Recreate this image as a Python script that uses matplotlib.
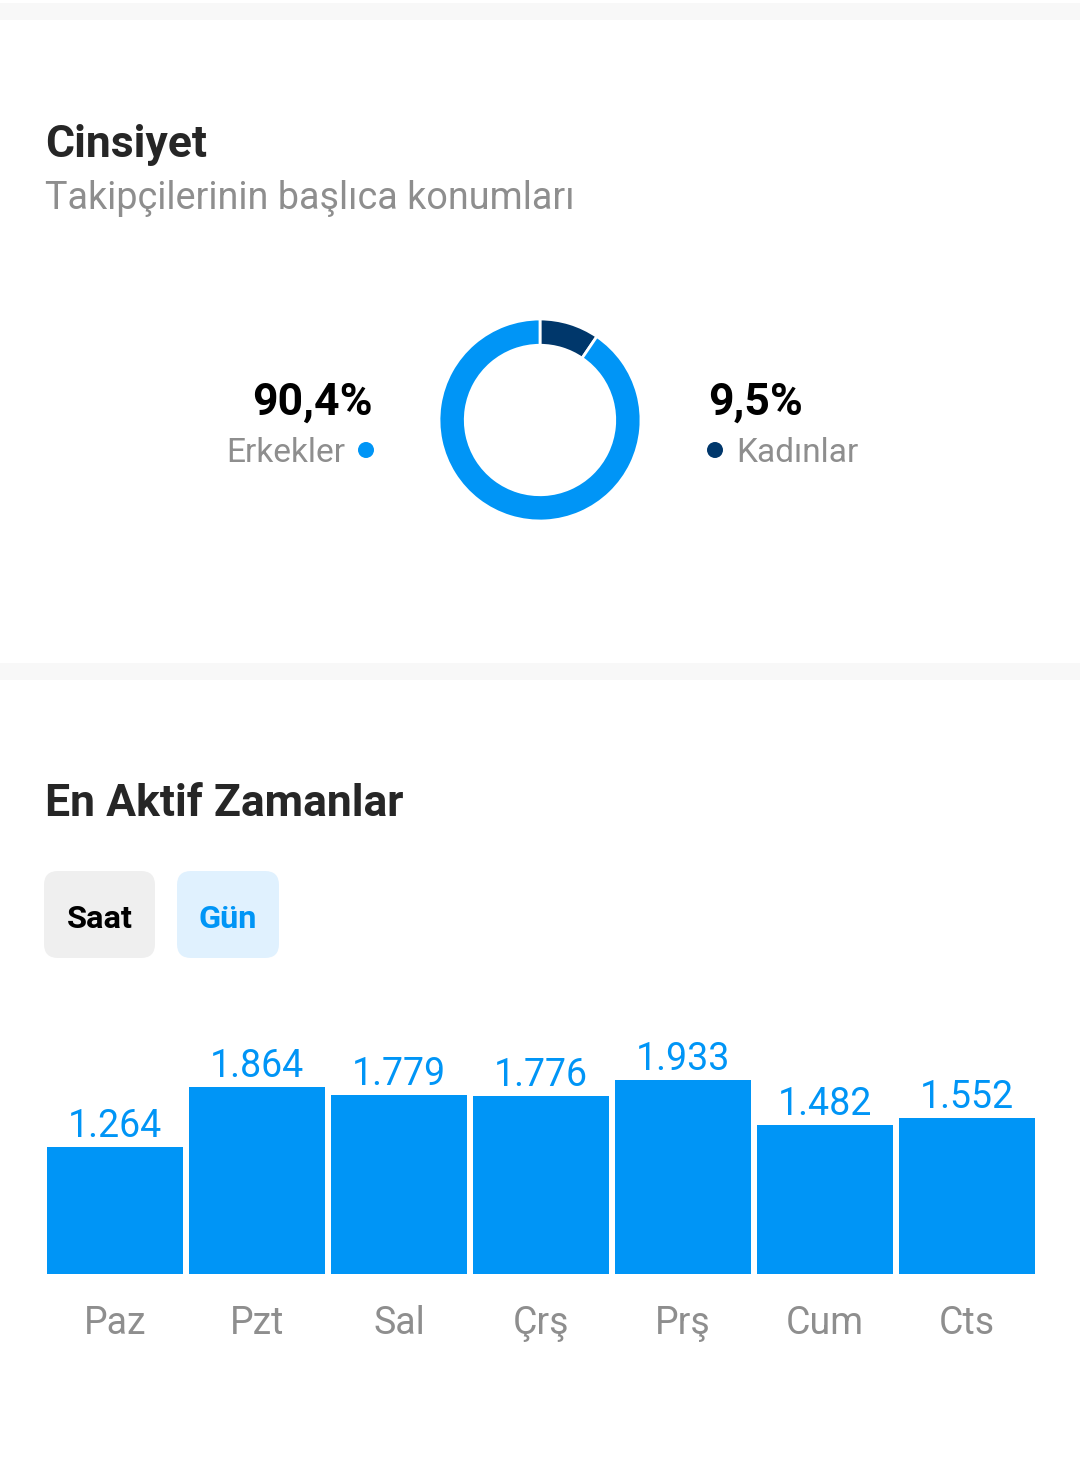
import matplotlib
matplotlib.use("Agg")
import matplotlib.pyplot as plt
from matplotlib.patches import Rectangle, FancyBboxPatch, Circle

plt.rcParams["font.family"] = ["Roboto", "DejaVu Sans"]

# data
gender_labels = ["Kadınlar", "Erkekler"]
gender_share = [9.5, 90.4]
days = ["Paz", "Pzt", "Sal", "Çrş", "Prş", "Cum", "Cts"]
activity = [1264, 1864, 1779, 1776, 1933, 1482, 1552]

blue = "#0095f6"
navy = "#00376b"
gray = "#8e8e8e"
dark = "#262626"

W, H = 1080, 1465
fig = plt.figure(figsize=(W / 100, H / 100), dpi=100)
fig.patch.set_facecolor("white")


def px(v):
    # pixels -> points
    return v * 72 / 100


# background / text layer in pixel coords
bg = fig.add_axes([0, 0, 1, 1])
bg.set_xlim(0, W)
bg.set_ylim(H, 0)
bg.axis("off")

bg.add_patch(Rectangle((0, 3), W, 17, color="#f8f8f8", lw=0))
bg.add_patch(Rectangle((0, 663), W, 17, color="#f8f8f8", lw=0))

bg.text(45, 157, "Cinsiyet", fontsize=px(44.5), fontweight="bold", color=dark, va="baseline")
bg.text(45, 209, "Takipçilerinin başlıca konumları", fontsize=px(37.7), color=gray, va="baseline")

# gender labels
bg.text(373, 415, f"{gender_share[1]:.1f}%".replace(".", ","), fontsize=px(44.5),
        fontweight="bold", color="black", ha="right", va="baseline")
bg.text(345, 462, gender_labels[1], fontsize=px(33.5), color=gray, ha="right", va="baseline")
bg.add_patch(Circle((366, 450), 8, color=blue, lw=0))

bg.text(708, 415, f"{gender_share[0]:.1f}%".replace(".", ","), fontsize=px(44.5),
        fontweight="bold", color="black", ha="left", va="baseline")
bg.text(736, 462, gender_labels[0], fontsize=px(33.5), color=gray, ha="left", va="baseline")
bg.add_patch(Circle((715, 450), 8, color=navy, lw=0))

bg.text(45, 816, "En Aktif Zamanlar", fontsize=px(44.5), fontweight="bold", color=dark, va="baseline")

# toggle buttons
bg.add_patch(FancyBboxPatch((44, 871), 111, 87, boxstyle="round,pad=0,rounding_size=14",
                            fc="#efefef", ec="none"))
bg.add_patch(FancyBboxPatch((177, 871), 102, 87, boxstyle="round,pad=0,rounding_size=14",
                            fc="#e0f1fe", ec="none"))
bg.text(99.5, 928, "Saat", fontsize=px(32.5), fontweight="bold", color="black", ha="center", va="baseline")
bg.text(228, 928, "Gün", fontsize=px(32.5), fontweight="bold", color=blue, ha="center", va="baseline")

# donut
dax = fig.add_axes([439 / W, 1 - 521 / H, 202 / W, 202 / H])
dax.pie(gender_share, colors=[navy, blue], startangle=90, counterclock=False,
        radius=1, wedgeprops=dict(width=0.26, edgecolor="white", linewidth=2))
dax.set_xlim(-1, 1)
dax.set_ylim(-1, 1)
dax.set_aspect("equal")
dax.axis("off")

# bar chart
bar_top_px = 1000
bax = fig.add_axes([47 / W, 1 - 1274 / H, (1035 - 47) / W, (1274 - bar_top_px) / H])
x = range(len(days))
width = 136 / 142
bax.bar(x, activity, width=width, color=blue)
bax.set_xlim(-width / 2, len(days) - 1 + width / 2)
bax.set_ylim(0, (1274 - bar_top_px) / 0.1004)
bax.axis("off")

for i, v in enumerate(activity):
    bax.annotate(f"{v:,}".replace(",", "."), (i, v), xytext=(0, px(10)),
                 textcoords="offset points", ha="center", va="baseline",
                 fontsize=px(37.5), color=blue)
    bax.annotate(days[i], (i, 0), xytext=(0, -px(60)), textcoords="offset points",
                 ha="center", va="baseline", fontsize=px(37.5), color=gray)

fig.savefig("out.png", dpi=100, facecolor="white")
